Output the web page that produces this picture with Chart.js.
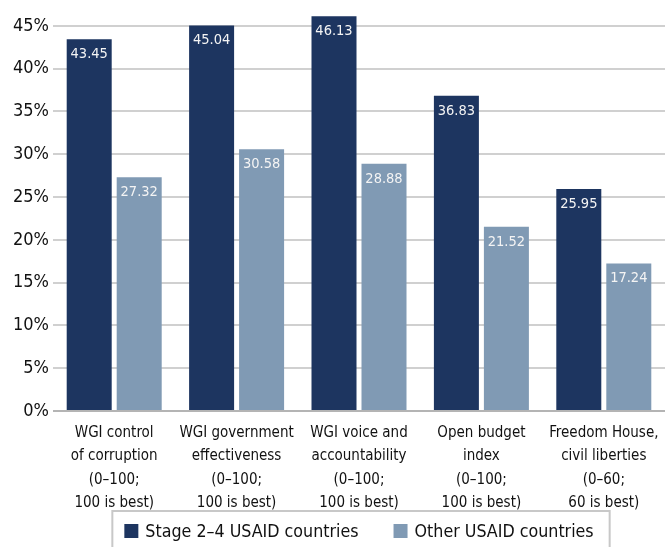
<!DOCTYPE html>
<html>
<head>
<meta charset="utf-8">
<script src="https://cdn.jsdelivr.net/npm/chart.js@4"></script>
<style>
  body { margin: 0; background: #fff; }
</style>
</head>
<body>
<canvas id="chart-1" width="671" height="547"></canvas>
<script>
const categories = [
  ["WGI control", "of corruption", "(0–100;", "100 is best)"],
  ["WGI government", "effectiveness", "(0–100;", "100 is best)"],
  ["WGI voice and", "accountability", "(0–100;", "100 is best)"],
  ["Open budget", "index", "(0–100;", "100 is best)"],
  ["Freedom House,", "civil liberties", "(0–60;", "60 is best)"]
];
const stageValues = [43.45, 45.04, 46.13, 36.83, 25.95];
const otherValues = [27.32, 30.58, 28.88, 21.52, 17.24];
const yTicks = [0, 5, 10, 15, 20, 25, 30, 35, 40, 45];

const narrow = "'Liberation Sans Narrow', 'DejaVu Sans Condensed', sans-serif";

// white value labels inside the top of each bar
const barLabels = {
  id: 'barLabels',
  afterDatasetsDraw(chart) {
    const ctx = chart.ctx;
    ctx.save();
    ctx.fillStyle = '#f4f4f4';
    ctx.font = '14.5px ' + narrow;
    ctx.textAlign = 'center';
    ctx.textBaseline = 'middle';
    chart.data.datasets.forEach(function (ds, i) {
      chart.getDatasetMeta(i).data.forEach(function (bar, j) {
        ctx.fillText(ds.data[j].toFixed(2), bar.x, bar.y + 15);
      });
    });
    ctx.restore();
  }
};

// legend drawn by hand, centred under the plot area, in a grey frame
const boxLegend = {
  id: 'boxLegend',
  afterDraw(chart) {
    const ctx = chart.ctx;
    const area = chart.chartArea;
    const sq = 14, gapText = 7, gapItem = 35;
    ctx.save();
    ctx.font = '17.7px ' + narrow;
    const items = chart.data.datasets.map(function (ds) {
      return { text: ds.label, color: ds.backgroundColor, w: ctx.measureText(ds.label).width };
    });
    let total = 0;
    items.forEach(function (it, i) { total += sq + gapText + it.w + (i ? gapItem : 0); });
    let x = (area.left + area.right) / 2 - total / 2;
    const cy = 531;
    ctx.strokeStyle = '#c8c8c8';
    ctx.lineWidth = 2;
    ctx.strokeRect(x - 12, 511, total + 28, 50);
    ctx.textBaseline = 'middle';
    items.forEach(function (it) {
      ctx.fillStyle = it.color;
      ctx.fillRect(x, cy - sq / 2, sq, sq);
      x += sq + gapText;
      ctx.fillStyle = '#111';
      ctx.fillText(it.text, x, cy + 1);
      x += it.w + gapItem;
    });
    ctx.restore();
  }
};

const ctx1 = document.getElementById("chart-1").getContext("2d");
const myChart1 = new Chart(ctx1, {
  type: "bar",
  data: {
    labels: categories,
    datasets: [
      {
        label: "Stage 2–4 USAID countries",
        data: stageValues,
        backgroundColor: "rgb(29,53,96)"
      },
      {
        label: "Other USAID countries",
        data: otherValues,
        backgroundColor: "rgb(128,154,180)"
      }
    ]
  },
  options: {
    responsive: false,
    animation: false,
    devicePixelRatio: 1,
    layout: { padding: { left: 0, right: 6, top: 7, bottom: 36 } },
    datasets: {
      bar: { categoryPercentage: 0.817, barPercentage: 0.9 }
    },
    scales: {
      x: {
        afterFit(scale) { scale.height = 100; },
        grid: { display: false },
        border: { display: false },
        ticks: {
          color: '#111',
          font: { family: narrow, size: 15, lineHeight: '23.5px' },
          padding: 2,
          maxRotation: 0,
          autoSkip: false
        }
      },
      y: {
        min: 0,
        max: 46.3,
        afterFit(scale) { scale.width = 53; },
        afterBuildTicks(scale) {
          scale.ticks = yTicks.map(function (v) { return { value: v }; });
        },
        border: { display: false },
        grid: {
          drawTicks: false,
          lineWidth: 2,
          color: function (c) { return c.tick && c.tick.value === 0 ? '#b4b4b4' : '#d0d0d0'; }
        },
        ticks: {
          color: '#111',
          padding: 4,
          font: { family: narrow, size: 18 },
          callback: function (v) { return v + '%'; }
        }
      }
    },
    plugins: {
      tooltip: { enabled: false },
      legend: { display: false }
    }
  },
  plugins: [barLabels, boxLegend]
});
</script>
</body>
</html>
